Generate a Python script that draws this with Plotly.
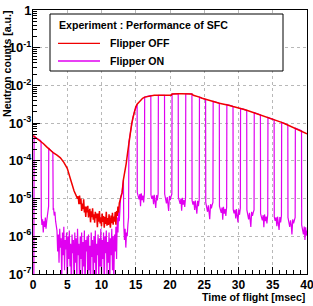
import plotly.graph_objects as go

# ---------------- data (log10 of neutron counts) -------------
# Flipper OFF
off_t_early = [0.0, 0.5, 1.0, 1.5, 2.0, 2.5, 3.0, 3.5, 4.0, 4.5, 5.0, 5.5, 6.0, 6.5]
off_log10_early = [-3.33, -3.40, -3.45, -3.54, -3.63, -3.72, -3.79, -3.85, -3.92,
                   -4.04, -4.20, -4.50, -4.80, -5.00]
# noisy minimum, 0.1 msec bins from 6.6 to 12.6
off_noise_t0 = 6.6
off_noise_log10 = [-4.94, -5.15, -4.92, -5.15, -5.00, -5.33, -5.13, -5.28, -5.02, -5.37,
                   -5.21, -5.49, -5.21, -5.37, -5.19, -5.50, -5.36, -5.27, -5.63, -5.34,
                   -5.49, -5.26, -5.56, -5.42, -5.64, -5.35, -5.52, -5.40, -5.76, -5.40,
                   -5.61, -5.33, -5.66, -5.50, -5.73, -5.40, -5.62, -5.46, -5.77, -5.49,
                   -5.67, -5.35, -5.72, -5.52, -5.70, -5.42, -5.62, -5.77, -5.45, -5.65,
                   -5.38, -5.69, -5.48, -5.61, -5.36, -5.69, -5.33, -5.46, -5.21, -5.37,
                   -5.12]
off_t_late = [12.8, 13.0, 13.2, 13.4, 13.6, 13.8, 14.0, 14.2, 14.4, 14.6, 14.8, 15.0,
              15.2, 15.6, 16.0, 16.3, 16.7, 17.2, 17.7, 18.3, 18.7, 19.2, 19.7, 20.2,
              20.3, 20.7, 21.2, 21.7, 22.3, 22.7, 23.2, 23.4, 23.7, 24.3, 24.7, 25.2,
              25.7, 26.3, 26.7, 27.2, 27.7, 28.3, 28.7, 29.2, 29.7, 30.3, 30.7, 31.2,
              31.7, 32.3, 32.7, 33.2, 33.7, 34.3, 34.7, 35.2, 35.7, 36.3, 36.7, 37.2,
              37.7, 38.3, 38.7, 39.2, 39.7, 40.0]
off_log10_late = [-4.95, -4.85, -4.50, -4.33, -4.08, -3.80, -3.50, -3.25, -3.02, -2.85,
                  -2.70, -2.57,
                  -2.50, -2.41, -2.34, -2.31, -2.29, -2.27, -2.26, -2.26, -2.26, -2.26,
                  -2.26, -2.26, -2.23, -2.22, -2.22, -2.22, -2.22, -2.22, -2.23, -2.26,
                  -2.27, -2.31, -2.34, -2.37, -2.39, -2.42, -2.45, -2.47, -2.49, -2.51,
                  -2.53, -2.56, -2.58, -2.61, -2.63, -2.66, -2.69, -2.72, -2.75, -2.78,
                  -2.81, -2.85, -2.88, -2.91, -2.94, -2.98, -3.01, -3.05, -3.09, -3.13,
                  -3.16, -3.20, -3.24, -3.28]

# Flipper ON
on_head_t = [0.0, 0.12, 0.16, 0.5, 1.0, 1.18,
             1.21, 1.3, 1.4, 1.5, 1.6, 1.7, 1.8, 1.9, 2.0, 2.1, 2.2, 2.28,
             2.3, 2.5, 2.9,
             2.95, 3.0, 3.1, 3.2, 3.3, 3.4]
on_head_log10 = [-7.6, -7.6, -3.34, -3.40, -3.45, -3.48,
                 -5.45, -5.70, -5.55, -5.90, -5.60, -5.75, -5.50, -5.80, -5.60, -5.45, -5.30, -5.20,
                 -3.66, -3.71, -3.77,
                 -5.30, -5.25, -5.45, -5.35, -5.60, -5.75]
# background while flipper ON, 0.1 msec bins from 3.5 to 12.2
on_low_t0 = 3.5
on_low_log10 = [-5.85, -6.40, -5.95, -6.70, -5.80, -6.30, -6.05, -7.20, -5.90, -6.50,
                -5.75, -6.90, -6.10, -6.35, -5.90, -7.50, -6.00, -6.60, -5.85, -6.80,
                -6.20, -7.40, -5.95, -6.45, -6.10, -7.60, -5.90, -6.70, -6.05, -7.30,
                -5.80, -6.50, -6.20, -7.50, -6.00, -6.60, -5.90, -7.20, -6.15, -6.80,
                -5.85, -7.60, -6.10, -6.40, -6.00, -7.30, -5.95, -6.90, -6.25, -7.50,
                -5.90, -6.55, -6.10, -7.40, -6.00, -6.70, -5.85, -7.60, -6.20, -6.50,
                -5.95, -7.30, -6.05, -6.80, -5.80, -7.10, -6.10, -6.60, -5.90, -7.50,
                -6.00, -6.45, -5.85, -7.00, -6.15, -6.70, -5.90, -7.40, -6.05, -6.50,
                -5.80, -6.90, -6.00, -7.20, -5.95, -6.40, -5.75, -6.60]
on_mid_t = [12.3, 12.4, 12.5, 12.6, 12.7, 12.8, 13.0, 13.2,
            13.25, 13.35, 13.45, 13.55, 13.65, 13.75, 13.85, 13.95,
            14.0, 14.2, 14.4, 14.6, 14.8, 15.0, 15.2]
on_mid_log10 = [-5.50, -5.90, -5.35, -5.60, -5.15, -4.95, -4.85, -4.50,
                -5.70, -6.10, -5.80, -6.30, -5.90, -6.00, -5.70, -5.50,
                -3.50, -3.25, -3.02, -2.85, -2.70, -2.57, -2.50]
# flipper dips (start / end of each dip, msec) and the noisy floor inside them
dip_start = [15.2, 17.2, 19.2, 21.2, 23.2, 25.2, 27.2, 29.2, 31.2, 33.2, 35.2, 37.2, 39.2]
dip_end = [16.3, 18.3, 20.3, 22.3, 24.3, 26.3, 28.3, 30.3, 32.3, 34.3, 36.3, 38.3]
dip_offsets = [0.02, 0.15, 0.28, 0.40, 0.50, 0.60, 0.72, 0.84, 0.95, 1.07]
dip_floor_log10 = [
    [-4.84, -4.92, -5.02, -4.88, -5.20, -4.86, -5.04, -4.92, -5.10, -4.86],
    [-4.90, -5.01, -4.92, -5.15, -4.90, -5.03, -5.25, -4.91, -5.05, -4.87],
    [-4.88, -5.02, -5.13, -4.96, -5.08, -5.33, -4.93, -5.04, -4.95, -4.88],
    [-4.96, -5.04, -5.14, -5.00, -5.32, -4.98, -5.16, -5.04, -5.22, -4.98],
    [-5.05, -5.16, -5.07, -5.30, -5.05, -5.18, -5.40, -5.06, -5.20, -5.02],
    [-5.10, -5.24, -5.35, -5.18, -5.30, -5.55, -5.15, -5.26, -5.17, -5.10],
    [-5.20, -5.28, -5.38, -5.24, -5.56, -5.22, -5.40, -5.28, -5.46, -5.22],
    [-5.28, -5.39, -5.30, -5.53, -5.28, -5.41, -5.63, -5.29, -5.43, -5.25],
    [-5.30, -5.44, -5.55, -5.38, -5.50, -5.75, -5.35, -5.46, -5.37, -5.30],
    [-5.40, -5.48, -5.58, -5.44, -5.76, -5.42, -5.60, -5.48, -5.66, -5.42],
    [-5.48, -5.59, -5.50, -5.73, -5.48, -5.61, -5.83, -5.49, -5.63, -5.45],
    [-5.50, -5.64, -5.75, -5.58, -5.70, -5.95, -5.55, -5.66, -5.57, -5.50],
    [-5.70, -5.80, -5.95, -5.74, -6.10, -5.76, -5.98, -5.85],
]

# axis ticks
x_ticks = [0, 5, 10, 15, 20, 25, 30, 35, 40]
y_tick_vals = [1e-7, 1e-6, 1e-5, 1e-4, 1e-3, 1e-2, 1e-1, 1]
y_tick_text = ["10<sup>-7</sup>", "10<sup>-6</sup>", "10<sup>-5</sup>", "10<sup>-4</sup>",
               "10<sup>-3</sup>", "10<sup>-2</sup>", "10<sup>-1</sup>", "1"]

series_names = ["Flipper OFF", "Flipper ON"]
legend_header = "Experiment : Performance of SFC"
x_title = "Time of flight [msec]"
y_title = "Neutron counts [a.u.]"

# ---------------- assemble series -------------
off_t = (off_t_early
         + [round(off_noise_t0 + 0.1 * i, 2) for i in range(len(off_noise_log10))]
         + off_t_late)
off_log10 = off_log10_early + off_noise_log10 + off_log10_late

on_t = list(on_head_t) + [round(on_low_t0 + 0.1 * i, 2) for i in range(len(on_low_log10))] + on_mid_t
on_log10 = list(on_head_log10) + on_low_log10 + on_mid_log10
for k, s in enumerate(dip_start):
    vals = dip_floor_log10[k]
    for o, v in zip(dip_offsets, vals):
        on_t.append(round(s + o, 3))
        on_log10.append(v)
    if k < len(dip_end):
        e, s_next = dip_end[k], dip_start[k + 1]
        for t, v in zip(off_t, off_log10):
            if e - 1e-9 <= t <= s_next + 1e-9:
                on_t.append(t)
                on_log10.append(v)

off_y = [10 ** v for v in off_log10]
on_y = [10 ** v for v in on_log10]

RED = "#f00000"
MAG = "#e000f0"

fig = go.Figure()
fig.add_trace(go.Scatter(x=on_t, y=on_y, mode="lines", name=series_names[1],
                         line=dict(color=MAG, width=1.2), showlegend=False))
fig.add_trace(go.Scatter(x=off_t, y=off_y, mode="lines", name=series_names[0],
                         line=dict(color=RED, width=1.5), showlegend=False))

# ---------------- layout -------------
W, H = 313, 306
L, R, T, B = 33, 6, 10, 32
PW, PH = W - L - R, H - T - B


def px(x):
    return (x - L) / PW


def py(y):
    return 1 - (y - T) / PH


FONT = "Liberation Sans, Arial, Helvetica, sans-serif"
GRID = "#b8b8b8"

fig.update_layout(
    width=W, height=H,
    margin=dict(l=L, r=R, t=T, b=B, pad=0, autoexpand=False),
    paper_bgcolor="white", plot_bgcolor="white",
    font=dict(family=FONT, color="black"),
    showlegend=False,
    xaxis=dict(range=[0, 40], tickvals=x_ticks, ticks="inside", ticklen=7,
               tickwidth=1, tickcolor="black", showline=True, linecolor="black",
               linewidth=1, mirror=True, showgrid=True, gridcolor=GRID,
               griddash="dot", gridwidth=1, zeroline=False, automargin=False,
               ticklabeloverflow="allow",
               tickfont=dict(family=FONT, size=12, weight="bold", color="black"),
               minor=dict(ticks="inside", ticklen=4, dtick=1, tickcolor="black",
                          showgrid=False)),
    yaxis=dict(type="log", range=[-7, 0], tickvals=y_tick_vals, ticktext=y_tick_text,
               ticks="inside", ticklen=7, tickwidth=1, tickcolor="black",
               showline=True, linecolor="black", linewidth=1, mirror=True,
               showgrid=True, gridcolor=GRID, griddash="dot", gridwidth=1,
               zeroline=False, automargin=False, ticklabelstandoff=-2,
               ticklabeloverflow="allow",
               tickfont=dict(family=FONT, size=13, weight="bold", color="black"),
               minor=dict(ticks="inside", ticklen=4, dtick="D1", tickcolor="black",
                          showgrid=False)),
)

# axis titles
fig.add_annotation(text=x_title, xref="paper", yref="paper", x=px(307), y=py(297),
                   xanchor="right", yanchor="middle", showarrow=False,
                   font=dict(family=FONT, size=10.6, weight="bold"))
fig.add_annotation(text=y_title, xref="paper", yref="paper", x=px(6.5), y=py(8),
                   xanchor="center", yanchor="top", textangle=-90, showarrow=False,
                   font=dict(family=FONT, size=10.6, weight="bold"))

# legend box
fig.add_shape(type="rect", xref="paper", yref="paper", x0=px(50), x1=px(283),
              y0=py(71), y1=py(14), fillcolor="white",
              line=dict(color="black", width=1), layer="above")
fig.add_annotation(text=legend_header, xref="paper", yref="paper", x=px(57), y=py(25),
                   xanchor="left", yanchor="middle", showarrow=False,
                   font=dict(family=FONT, size=10.6, weight="bold"))
for name, col, yy in [(series_names[0], RED, 43.3), (series_names[1], MAG, 61)]:
    fig.add_shape(type="line", xref="paper", yref="paper", x0=px(58), x1=px(100),
                  y0=py(yy), y1=py(yy), line=dict(color=col, width=1.3), layer="above")
    fig.add_annotation(text=name, xref="paper", yref="paper", x=px(108), y=py(yy),
                       xanchor="left", yanchor="middle", showarrow=False,
                       font=dict(family=FONT, size=10.6, weight="bold"))

fig.write_html("out.html")
